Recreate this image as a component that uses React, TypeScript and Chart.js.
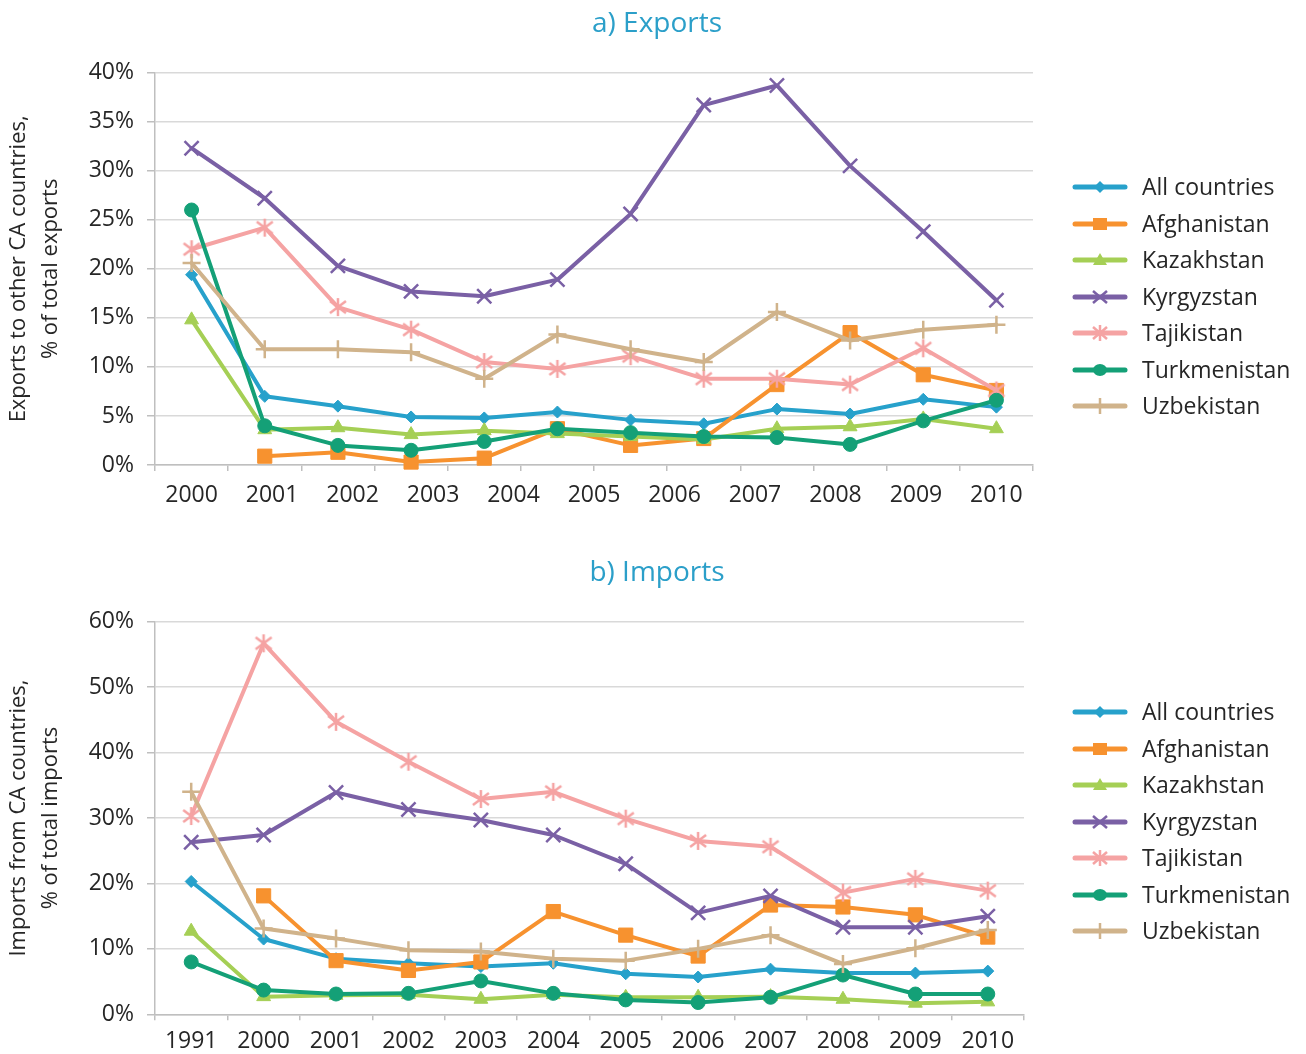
import React, { useEffect, useRef } from 'react';
import { Chart, registerables } from 'chart.js';

Chart.register(...registerables);

const FONT = '"Open Sans", "DejaVu Sans", sans-serif';
const TEXT = '#262626';
const AXIS = '#BFBFBF';
const GRID = '#D9D9D9';
const TITLE_COLOR = '#2B9FC9';

const seriesNames = ['All countries', 'Afghanistan', 'Kazakhstan', 'Kyrgyzstan', 'Tajikistan', 'Turkmenistan', 'Uzbekistan'];
const seriesColors = ['#27A1CB', '#F7922F', '#A5CF55', '#7A60A5', '#F5A3A3', '#14A077', '#D0B38B'];
const seriesMarkers = ['rectRot', 'rect', 'triangle', 'crossRot', 'asterisk', 'circle', 'cross'];
const markerRadii = [6, 10, 8, 10, 10, 7, 9];
const strokeOnlyMarkers = ['crossRot', 'asterisk', 'cross'];

// a) Exports
const exportYears = ['2000', '2001', '2002', '2003', '2004', '2005', '2006', '2007', '2008', '2009', '2010'];
const exportsAllCountries = [19.4, 7.0, 6.0, 4.9, 4.8, 5.4, 4.6, 4.2, 5.7, 5.2, 6.7, 5.9];
const exportsAfghanistan = [null, 0.9, 1.3, 0.3, 0.7, 3.7, 2.0, 2.7, 8.2, 13.5, 9.2, 7.6];
const exportsKazakhstan = [14.8, 3.6, 3.8, 3.1, 3.5, 3.2, 2.9, 2.6, 3.7, 3.9, 4.7, 3.7];
const exportsKyrgyzstan = [32.3, 27.2, 20.3, 17.7, 17.2, 18.9, 25.6, 36.7, 38.7, 30.5, 23.8, 16.8];
const exportsTajikistan = [22.0, 24.2, 16.1, 13.8, 10.5, 9.8, 11.1, 8.8, 8.8, 8.2, 11.9, 7.6];
const exportsTurkmenistan = [26.0, 4.0, 2.0, 1.5, 2.4, 3.7, 3.3, 2.9, 2.8, 2.1, 4.5, 6.6];
const exportsUzbekistan = [20.6, 11.8, 11.8, 11.5, 8.8, 13.3, 11.8, 10.5, 15.6, 12.7, 13.8, 14.3];

// b) Imports
const importYears = ['1991', '2000', '2001', '2002', '2003', '2004', '2005', '2006', '2007', '2008', '2009', '2010'];
const importsAllCountries = [20.3, 11.5, 8.5, 7.8, 7.3, 7.8, 6.2, 5.7, 6.9, 6.3, 6.3, 6.6];
const importsAfghanistan = [null, 18.1, 8.2, 6.7, 8.0, 15.7, 12.1, 8.9, 16.7, 16.4, 15.2, 11.8];
const importsKazakhstan = [12.7, 2.7, 2.9, 3.0, 2.3, 3.0, 2.6, 2.6, 2.7, 2.3, 1.7, 1.9];
const importsKyrgyzstan = [26.3, 27.4, 33.9, 31.3, 29.7, 27.4, 23.0, 15.5, 18.1, 13.3, 13.3, 15.0];
const importsTajikistan = [30.3, 56.7, 44.7, 38.6, 32.9, 34.0, 29.9, 26.5, 25.6, 18.6, 20.7, 18.9];
const importsTurkmenistan = [8.0, 3.7, 3.1, 3.2, 5.1, 3.2, 2.2, 1.8, 2.6, 6.0, 3.1, 3.1];
const importsUzbekistan = [34.0, 13.1, 11.6, 9.8, 9.6, 8.5, 8.2, 10.0, 12.1, 7.7, 10.1, 12.9];

const exportSeries = [exportsAllCountries, exportsAfghanistan, exportsKazakhstan, exportsKyrgyzstan, exportsTajikistan, exportsTurkmenistan, exportsUzbekistan];
const importSeries = [importsAllCountries, importsAfghanistan, importsKazakhstan, importsKyrgyzstan, importsTajikistan, importsTurkmenistan, importsUzbekistan];

function makeAsterisk(color: string): HTMLCanvasElement {
  const c = document.createElement('canvas');
  c.width = 22;
  c.height = 22;
  const g = c.getContext('2d');
  if (g) {
    g.strokeStyle = color;
    g.lineWidth = 2.5;
    g.beginPath();
    g.moveTo(3, 5);
    g.lineTo(19, 17);
    g.moveTo(3, 17);
    g.lineTo(19, 5);
    g.moveTo(11, 2);
    g.lineTo(11, 20);
    g.stroke();
  }
  return c;
}

type PanelProps = {
  top: number;
  height: number;
  title: string;
  titleTop: number;
  titleBottom: number;
  yTitle: string[];
  yMax: number;
  yStep: number;
  series: (number | null)[][];
  labels: string[];
  rightPad: number;
  xHeight: number;
  xPad: number;
  padBottom: number;
};

function Panel(props: PanelProps) {
  const ref = useRef<HTMLCanvasElement | null>(null);
  useEffect(() => {
    if (!ref.current) return;
    const n = props.series[0].length;
    const L = props.labels.length;
    const xTicks: { value: number; lbl: string }[] = [];
    for (let k = 0; k <= n; k++) xTicks.push({ value: k - 0.5, lbl: '' });
    props.labels.forEach((lab, i) => xTicks.push({ value: (i * (n - 1)) / (L - 1), lbl: lab }));
    xTicks.sort((a, b) => a.value - b.value);

    const datasets = props.series.map((vals, s) => {
      const kind = seriesMarkers[s];
      return {
        label: seriesNames[s],
        data: vals.map((v, i) => ({ x: i, y: v })),
        borderColor: seriesColors[s],
        backgroundColor: seriesColors[s],
        borderWidth: 4,
        borderJoinStyle: 'round',
        borderCapStyle: 'round',
        pointStyle: kind === 'asterisk' ? makeAsterisk(seriesColors[s]) : kind,
        pointRadius: markerRadii[s],
        pointHoverRadius: markerRadii[s],
        pointBackgroundColor: seriesColors[s],
        pointBorderColor: seriesColors[s],
        pointBorderWidth: strokeOnlyMarkers.includes(kind) ? 2.5 : 1,
        order: props.series.length - s,
        clip: false,
        tension: 0,
      };
    });

    const tickFont = { family: FONT, size: 23 };
    const chart = new Chart(ref.current, {
      type: 'line',
      data: { datasets: datasets as any },
      options: {
        animation: false,
        responsive: false,
        devicePixelRatio: 1,
        layout: { padding: { left: 8, right: 0, top: 0, bottom: props.padBottom } },
        plugins: {
          legend: { display: false },
          tooltip: { enabled: false },
          title: {
            display: true,
            text: props.title,
            color: TITLE_COLOR,
            font: { family: FONT, size: 28, weight: 'normal', lineHeight: 1.2 },
            padding: { top: props.titleTop, bottom: props.titleBottom },
          },
        },
        scales: {
          x: {
            type: 'linear',
            min: -0.5,
            max: n - 0.5,
            afterBuildTicks: (sc: any) => {
              sc.ticks = xTicks.map((t) => ({ value: t.value, lbl: t.lbl }));
            },
            afterFit: (sc: any) => {
              sc.height = props.xHeight;
            },
            grid: {
              display: true,
              drawOnChartArea: false,
              drawTicks: true,
              tickLength: 6,
              lineWidth: 1.5,
              tickWidth: 1.5,
              color: (c: any) => (c.tick && c.tick.lbl ? 'rgba(0,0,0,0)' : AXIS),
              tickColor: (c: any) => (c.tick && c.tick.lbl ? 'rgba(0,0,0,0)' : AXIS),
            },
            border: { display: true, color: AXIS, width: 1.5 },
            ticks: {
              autoSkip: false,
              maxRotation: 0,
              minRotation: 0,
              padding: props.xPad,
              color: TEXT,
              font: tickFont,
              callback: (_v: any, i: number, ticks: any[]) => (ticks[i] && ticks[i].lbl) || '',
            },
          },
          y: {
            type: 'linear',
            position: 'left',
            min: 0,
            max: props.yMax,
            afterFit: (sc: any) => {
              sc.width = 147;
            },
            ticks: {
              stepSize: props.yStep,
              padding: 13,
              color: TEXT,
              font: tickFont,
              callback: (v: any) => v + '%',
            },
            grid: { color: GRID, lineWidth: 1.5, tickLength: 8, tickColor: AXIS, tickWidth: 1.5 },
            border: { display: true, color: AXIS, width: 1.5 },
            title: {
              display: true,
              text: props.yTitle,
              color: TEXT,
              font: { family: FONT, size: 22, lineHeight: 1.45 },
              padding: { top: -5, bottom: 0 },
            },
          },
          yRight: {
            type: 'linear',
            position: 'right',
            display: true,
            grid: { display: false },
            border: { display: false },
            ticks: { display: false },
            afterFit: (sc: any) => {
              sc.width = props.rightPad;
            },
          },
        },
      } as any,
    });
    return () => chart.destroy();
  }, []);
  return (
    <canvas
      ref={ref}
      width={1306}
      height={props.height}
      style={{ position: 'absolute', left: 0, top: props.top, display: 'block' }}
    />
  );
}

function Marker({ kind, color }: { kind: string; color: string }) {
  const cx = 30;
  const cy = 12;
  if (kind === 'rectRot') return <polygon points={`${cx},${cy - 6} ${cx + 6},${cy} ${cx},${cy + 6} ${cx - 6},${cy}`} fill={color} />;
  if (kind === 'rect') return <rect x={cx - 7} y={cy - 6} width={14} height={12} fill={color} />;
  if (kind === 'triangle') return <polygon points={`${cx},${cy - 7} ${cx + 7},${cy + 5} ${cx - 7},${cy + 5}`} fill={color} />;
  if (kind === 'circle') return <ellipse cx={cx} cy={cy} rx={7} ry={6} fill={color} />;
  if (kind === 'crossRot')
    return (
      <g stroke={color} strokeWidth={2.5}>
        <line x1={cx - 7} y1={cy - 6} x2={cx + 7} y2={cy + 6} />
        <line x1={cx - 7} y1={cy + 6} x2={cx + 7} y2={cy - 6} />
      </g>
    );
  if (kind === 'asterisk')
    return (
      <g stroke={color} strokeWidth={2.5}>
        <line x1={cx - 7} y1={cy - 6} x2={cx + 7} y2={cy + 6} />
        <line x1={cx - 7} y1={cy + 6} x2={cx + 7} y2={cy - 6} />
        <line x1={cx} y1={cy - 8} x2={cx} y2={cy + 8} />
      </g>
    );
  return (
    <g stroke={color} strokeWidth={2.5}>
      <line x1={cx} y1={cy - 8} x2={cx} y2={cy + 8} />
      <line x1={cx - 6} y1={cy} x2={cx + 6} y2={cy} />
    </g>
  );
}

function Legend({ y0 }: { y0: number }) {
  return (
    <>
      {seriesNames.map((name, s) => {
        const cy = y0 + s * 36.5;
        return (
          <React.Fragment key={name}>
            <svg width={60} height={24} style={{ position: 'absolute', left: 1070, top: cy - 12 }}>
              <line x1={5} y1={12} x2={55} y2={12} stroke={seriesColors[s]} strokeWidth={5} strokeLinecap="round" />
              <Marker kind={seriesMarkers[s]} color={seriesColors[s]} />
            </svg>
            <div
              style={{
                position: 'absolute',
                left: 1142,
                top: cy - 15.7,
                height: 30,
                lineHeight: '30px',
                fontFamily: FONT,
                fontSize: 23,
                color: TEXT,
                whiteSpace: 'nowrap',
              }}
            >
              {name}
            </div>
          </React.Fragment>
        );
      })}
    </>
  );
}

export default function App() {
  return (
    <div
      style={{
        position: 'absolute',
        left: 0,
        top: 0,
        width: 1306,
        height: 1054,
        background: '#ffffff',
        overflow: 'hidden',
      }}
    >
      <Panel
        top={0}
        height={540}
        title="a) Exports"
        titleTop={7.2}
        titleBottom={31.9}
        yTitle={['Exports to other CA countries,', '% of total exports']}
        yMax={40}
        yStep={5}
        series={exportSeries}
        labels={exportYears}
        rightPad={273}
        xHeight={40}
        xPad={10.5}
        padBottom={35}
      />
      <Panel
        top={540}
        height={514}
        title="b) Imports"
        titleTop={16.2}
        titleBottom={31.9}
        yTitle={['Imports from CA countries,', '% of total imports']}
        yMax={60}
        yStep={10}
        series={importSeries}
        labels={importYears}
        rightPad={282}
        xHeight={39.7}
        xPad={7}
        padBottom={0}
      />
      <Legend y0={187} />
      <Legend y0={712} />
    </div>
  );
}
